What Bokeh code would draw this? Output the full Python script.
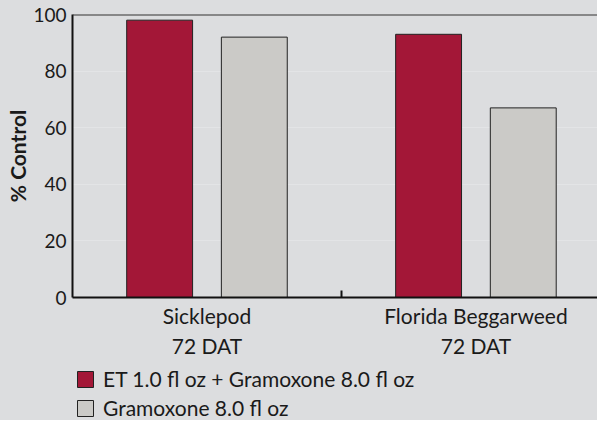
from bokeh.plotting import figure
from bokeh.layouts import column
from bokeh.models import Range1d, FixedTicker, Span, Legend, LegendItem, ColumnDataSource
from bokeh.embed import file_html
from bokeh.resources import INLINE

categories = ["Sicklepod\n72 DAT", "Florida Beggarweed\n72 DAT"]
series_names = ["ET 1.0 fl oz + Gramoxone 8.0 fl oz", "Gramoxone 8.0 fl oz"]
et_gramoxone = [98, 93]
gramoxone = [92, 67]
y_ticks = [0, 20, 40, 60, 80, 100]

colors = ["#a31737", "#cbcac7"]
BG = "#dcdddf"
FONT = "Lato"
TXT = "#1a1a1a"

centers = [i + 0.5 for i in range(len(categories))]
offset = 0.176
bar_w = 0.245

p = figure(width=597, height=360, output_backend="svg", toolbar_location=None,
           x_range=Range1d(0, 1.952), y_range=Range1d(0, 100),
           min_border_left=72, min_border_right=0, min_border_top=14, min_border_bottom=55)
p.background_fill_color = BG
p.border_fill_color = BG
p.outline_line_color = None

src1 = ColumnDataSource(dict(x=[c - offset for c in centers], top=et_gramoxone))
src2 = ColumnDataSource(dict(x=[c + offset for c in centers], top=gramoxone))
bar_style = dict(width=bar_w, line_color="#222222", line_width=1)
r1 = p.vbar(x="x", top="top", source=src1, fill_color=colors[0], **bar_style)
r2 = p.vbar(x="x", top="top", source=src2, fill_color=colors[1], **bar_style)

p.add_layout(Span(location=100, dimension="width", line_color="#333333", line_width=2))

p.xgrid.visible = False
p.ygrid.ticker = FixedTicker(ticks=y_ticks)
p.ygrid.grid_line_color = "#e3e4e6"
p.ygrid.grid_line_width = 1

ya = p.yaxis[0]
ya.ticker = FixedTicker(ticks=y_ticks)
ya.axis_line_color = "#111111"
ya.axis_line_width = 2
ya.major_tick_in = 0
ya.major_tick_out = 0
ya.minor_tick_in = 0
ya.minor_tick_out = 0
ya.major_label_standoff = 6
ya.major_label_text_font = FONT
ya.major_label_text_font_size = "19px"
ya.major_label_text_color = TXT
ya.axis_label = "% Control"
ya.axis_label_text_font = FONT
ya.axis_label_text_font_style = "bold"
ya.axis_label_text_font_size = "21px"
ya.axis_label_text_color = TXT
ya.axis_label_standoff = 0

xa = p.xaxis[0]
xa.ticker = FixedTicker(ticks=centers, minor_ticks=[1.0])
xa.major_label_overrides = {c: lab for c, lab in zip(centers, categories)}
xa.axis_line_color = "#111111"
xa.axis_line_width = 2
xa.major_tick_in = 0
xa.major_tick_out = 0
xa.minor_tick_in = 7
xa.minor_tick_out = 0
xa.minor_tick_line_color = "#111111"
xa.minor_tick_line_width = 2
xa.major_label_standoff = 5
xa.major_label_text_font = FONT
xa.major_label_text_font_size = "21px"
xa.major_label_text_color = TXT

# legend panel (separate figure below the chart)
lg = figure(width=597, height=60, output_backend="svg", toolbar_location=None,
            x_range=Range1d(0, 1), y_range=Range1d(0, 1),
            min_border_left=72, min_border_right=0, min_border_top=0, min_border_bottom=0)
lg.background_fill_alpha = 0
lg.border_fill_color = BG
lg.outline_line_color = None
lg.axis.visible = False
lg.grid.visible = False
lr1 = lg.vbar(x=[5], top=[1], fill_color=colors[0], **bar_style)
lr2 = lg.vbar(x=[5], top=[1], fill_color=colors[1], **bar_style)

legend = Legend(items=[LegendItem(label=series_names[0], renderers=[lr1]),
                       LegendItem(label=series_names[1], renderers=[lr2])],
                location=(3, 0), orientation="vertical")
legend.background_fill_alpha = 0
legend.border_line_color = None
legend.label_text_font = FONT
legend.label_text_font_size = "21px"
legend.label_text_color = TXT
legend.label_height = 20
legend.glyph_width = 20
legend.glyph_height = 20
legend.label_standoff = 8
legend.spacing = 4
legend.padding = 0
legend.margin = 0
lg.add_layout(legend, "center")

layout = column(p, lg, spacing=0, styles={"background-color": BG})
open("out.html", "w").write(file_html(layout, INLINE))
